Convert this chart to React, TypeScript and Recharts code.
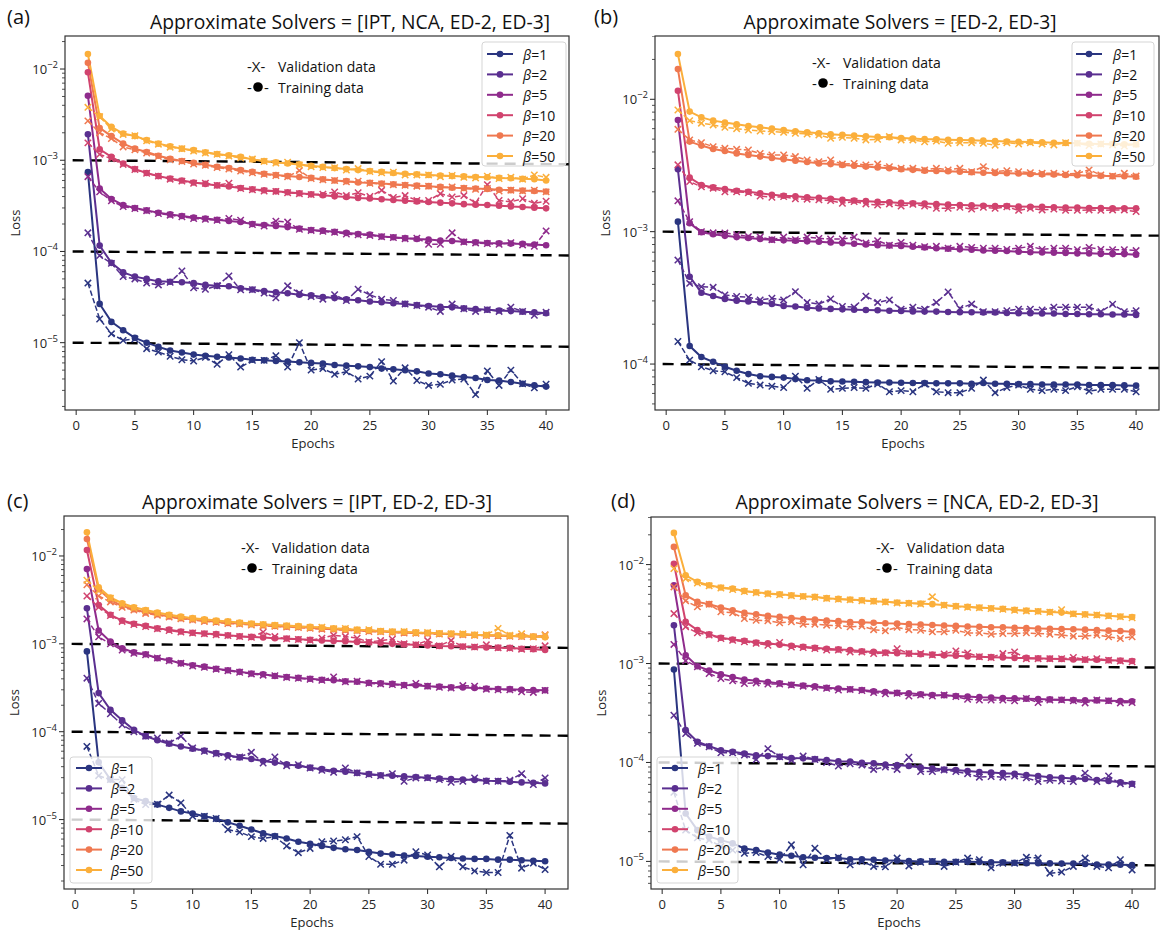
import React from 'react';
import { LineChart, Line, XAxis, YAxis, ReferenceLine } from 'recharts';

// ---------- shared categories / styles ----------
const EPOCHS = [1, 2, 3, 4, 5, 6, 7, 8, 9, 10, 11, 12, 13, 14, 15, 16, 17, 18, 19, 20,
  21, 22, 23, 24, 25, 26, 27, 28, 29, 30, 31, 32, 33, 34, 35, 36, 37, 38, 39, 40];
const BETAS = [1, 2, 5, 10, 20, 50];
const BETA_COLORS = ['#2a3580', '#5a2f90', '#8f2b8c', '#d1436e', '#ef7850', '#fbaf3b'];
const X_TICKS = [0, 5, 10, 15, 20, 25, 30, 35, 40];
const X_DOMAIN: [number, number] = [-0.95, 41.95];

const FONT = '"Open Sans", "DejaVu Sans", sans-serif';
const INK = '#262626';

// values are listed in a convenient unit, then scaled to the loss value
const u = (unit: number, vals: number[]) => vals.map((v) => v * unit);

// ---------- (a) IPT, NCA, ED-2, ED-3 ----------
const A_TRAIN_B1 = u(1e-6, [740, 26.6, 16.9, 13.7, 11.3, 10.0, 9.0, 8.2, 7.8, 7.4, 7.2, 7.0, 6.9, 6.7, 6.5, 6.4, 6.3, 6.2, 6.1, 6.0, 5.9, 5.7, 5.6, 5.5, 5.4, 5.2, 5.1, 5.0, 4.85, 4.6, 4.5, 4.35, 4.2, 4.1, 3.9, 3.85, 3.7, 3.55, 3.4, 3.3]);
const A_VAL_B1 = u(1e-6, [45, 18.2, 12.5, 10.6, 11.0, 8.6, 7.9, 7.1, 6.5, 6.3, 6.9, 5.8, 7.4, 5.4, 6.4, 6.4, 7.2, 5.4, 10.0, 5.0, 5.2, 4.5, 4.8, 4.0, 4.3, 6.2, 3.8, 5.3, 3.85, 3.4, 3.5, 3.9, 4.0, 2.7, 4.9, 3.4, 5.0, 3.55, 3.2, 3.5]);
const A_TRAIN_B2 = u(1e-5, [193, 11.6, 7.5, 5.9, 5.3, 5.0, 4.7, 4.65, 4.6, 4.5, 4.3, 4.2, 4.15, 3.95, 3.83, 3.67, 3.57, 3.48, 3.36, 3.3, 3.17, 3.08, 2.98, 2.92, 2.83, 2.78, 2.71, 2.66, 2.58, 2.52, 2.47, 2.44, 2.38, 2.34, 2.3, 2.25, 2.22, 2.18, 2.15, 2.1]);
const A_VAL_B2 = u(1e-5, [16, 9.0, 7.4, 5.3, 5.0, 4.5, 4.3, 4.6, 6.1, 4.0, 3.85, 4.2, 5.4, 3.8, 3.8, 3.5, 3.1, 4.2, 3.5, 3.2, 3.0, 3.35, 2.9, 3.85, 3.35, 3.0, 2.9, 2.65, 2.55, 2.45, 2.2, 2.65, 2.35, 2.2, 2.3, 2.2, 2.45, 2.2, 2.0, 2.15]);
const A_TRAIN_B5 = u(1e-4, [51, 4.9, 3.76, 3.22, 3.0, 2.82, 2.66, 2.55, 2.45, 2.35, 2.3, 2.23, 2.16, 2.1, 2.0, 1.95, 1.9, 1.85, 1.78, 1.72, 1.69, 1.64, 1.6, 1.55, 1.53, 1.46, 1.43, 1.4, 1.37, 1.35, 1.32, 1.3, 1.28, 1.26, 1.24, 1.23, 1.22, 1.21, 1.19, 1.17]);
const A_VAL_B5 = u(1e-4, [6.6, 4.5, 3.6, 3.1, 2.95, 2.8, 2.6, 2.5, 2.4, 2.3, 2.25, 2.2, 2.3, 2.2, 1.97, 1.9, 2.15, 2.1, 1.75, 1.7, 1.66, 1.62, 1.55, 1.52, 1.5, 1.45, 1.42, 1.38, 1.4, 1.2, 1.2, 1.6, 1.27, 1.24, 1.22, 1.2, 1.25, 1.18, 1.14, 1.68]);
const A_TRAIN_B10 = u(1e-4, [92, 13.2, 10.9, 9.2, 8.0, 7.25, 6.7, 6.3, 6.0, 5.7, 5.5, 5.3, 5.15, 4.97, 4.8, 4.68, 4.56, 4.45, 4.34, 4.23, 4.13, 4.02, 3.95, 3.85, 3.8, 3.73, 3.66, 3.6, 3.54, 3.49, 3.43, 3.37, 3.3, 3.26, 3.23, 3.18, 3.12, 3.07, 3.02, 2.97]);
const A_VAL_B10 = u(1e-4, [15.5, 11.6, 10.4, 9.0, 7.9, 7.2, 6.7, 6.2, 5.9, 5.6, 5.6, 5.3, 5.6, 4.9, 4.75, 4.6, 4.55, 4.4, 4.3, 4.2, 4.25, 4.49, 4.1, 4.4, 4.0, 4.68, 3.9, 4.1, 3.62, 3.62, 4.3, 3.95, 4.1, 3.4, 5.4, 3.62, 3.5, 3.78, 3.37, 3.55]);
const A_TRAIN_B20 = u(1e-4, [117, 22.6, 18.4, 15.2, 13.4, 12.3, 11.2, 10.4, 9.8, 9.35, 8.9, 8.5, 8.2, 7.8, 7.45, 7.1, 6.9, 6.7, 6.56, 6.4, 6.2, 6.0, 5.9, 5.7, 5.65, 5.55, 5.45, 5.35, 5.27, 5.2, 5.1, 5.0, 4.97, 4.9, 4.85, 4.75, 4.7, 4.65, 4.6, 4.55]);
const A_VAL_B20 = u(1e-4, [27, 20, 17.3, 14.0, 13.0, 12.0, 11.0, 10.1, 9.7, 9.1, 8.8, 8.3, 8.0, 7.6, 7.3, 7.0, 6.8, 6.6, 7.7, 6.3, 6.1, 6.0, 5.8, 5.9, 5.6, 5.5, 5.4, 5.3, 5.2, 5.2, 5.0, 5.1, 4.9, 4.8, 4.9, 4.6, 4.7, 4.6, 4.7, 4.5]);
const A_TRAIN_B50 = u(1e-4, [146, 30.5, 23.2, 19.6, 18.4, 16.6, 15.2, 14.2, 13.4, 12.9, 12.2, 11.7, 11.3, 10.9, 10.2, 9.8, 9.5, 9.2, 9.0, 8.7, 8.45, 8.2, 8.0, 7.8, 7.6, 7.45, 7.25, 7.1, 7.0, 6.9, 6.8, 6.7, 6.65, 6.56, 6.5, 6.4, 6.35, 6.25, 6.2, 6.0]);
const A_VAL_B50 = u(1e-4, [38, 30, 22, 19.2, 18.6, 16.3, 15.0, 13.9, 13.4, 12.6, 12.0, 11.6, 11.1, 10.6, 10.3, 9.7, 9.3, 9.5, 8.9, 8.5, 8.3, 8.3, 7.8, 8.1, 7.5, 7.3, 7.4, 6.9, 6.9, 6.9, 6.6, 6.8, 6.5, 6.4, 6.7, 6.3, 6.5, 6.2, 6.9, 6.5]);

// ---------- (b) ED-2, ED-3 ----------
const B_TRAIN_B1 = u(1e-5, [119, 13.7, 11.3, 10.4, 9.55, 8.9, 8.4, 8.1, 8.0, 7.9, 7.7, 7.55, 7.5, 7.4, 7.38, 7.35, 7.3, 7.25, 7.25, 7.22, 7.2, 7.2, 7.15, 7.15, 7.15, 7.1, 7.2, 7.1, 7.1, 7.05, 7.05, 7.0, 7.0, 7.0, 7.0, 6.95, 6.95, 6.95, 6.9, 6.87]);
const B_VAL_B1 = u(1e-5, [14.8, 10.7, 9.55, 8.9, 8.75, 7.9, 7.15, 6.94, 6.8, 6.65, 8.1, 6.55, 7.65, 6.45, 6.55, 6.65, 6.55, 7.07, 6.18, 6.3, 6.18, 7.07, 6.18, 6.08, 6.08, 6.55, 7.57, 6.08, 6.65, 6.94, 6.45, 6.3, 6.45, 6.3, 6.75, 6.25, 6.45, 6.45, 6.45, 6.18]);
const B_TRAIN_B2 = u(1e-4, [29.6, 4.57, 3.46, 3.27, 3.1, 3.01, 2.97, 2.92, 2.84, 2.75, 2.72, 2.66, 2.63, 2.61, 2.59, 2.57, 2.56, 2.55, 2.53, 2.52, 2.5, 2.49, 2.49, 2.47, 2.46, 2.46, 2.45, 2.45, 2.43, 2.42, 2.42, 2.41, 2.41, 2.39, 2.39, 2.38, 2.38, 2.37, 2.37, 2.35]);
const B_VAL_B2 = u(1e-4, [6.1, 4.07, 3.84, 3.8, 3.33, 3.24, 3.2, 3.05, 3.14, 3.05, 3.52, 2.92, 2.84, 3.1, 2.72, 2.69, 3.26, 2.92, 3.05, 2.6, 2.69, 2.6, 2.92, 3.5, 2.63, 2.84, 2.49, 2.49, 2.53, 2.6, 2.6, 2.56, 2.69, 2.69, 2.69, 2.69, 2.49, 2.83, 2.49, 2.53]);
const B_TRAIN_B5 = u(1e-4, [69.8, 11.6, 9.9, 9.55, 9.3, 9.1, 8.95, 8.8, 8.7, 8.6, 8.55, 8.45, 8.4, 8.3, 8.2, 8.1, 8.0, 7.9, 7.85, 7.8, 7.7, 7.6, 7.5, 7.43, 7.35, 7.3, 7.2, 7.18, 7.14, 7.06, 7.0, 6.97, 6.93, 6.9, 6.86, 6.86, 6.8, 6.77, 6.77, 6.7]);
const B_VAL_B5 = u(1e-4, [17.1, 11.9, 10.0, 9.8, 9.77, 9.5, 9.2, 9.1, 8.7, 9.1, 8.7, 9.1, 8.9, 8.8, 8.8, 9.1, 8.2, 8.55, 7.9, 8.3, 7.9, 7.7, 7.75, 7.5, 7.75, 7.6, 7.5, 7.5, 7.35, 7.5, 7.75, 7.35, 7.5, 7.5, 7.3, 7.6, 7.35, 7.3, 7.3, 7.2]);
const B_TRAIN_B10 = u(1e-3, [11.6, 2.56, 2.25, 2.16, 2.1, 2.04, 2.0, 1.95, 1.9, 1.87, 1.85, 1.82, 1.8, 1.77, 1.74, 1.72, 1.7, 1.68, 1.67, 1.65, 1.64, 1.63, 1.62, 1.6, 1.59, 1.58, 1.57, 1.56, 1.56, 1.55, 1.54, 1.54, 1.53, 1.52, 1.52, 1.51, 1.51, 1.5, 1.5, 1.5]);
const B_VAL_B10 = u(1e-3, [3.2, 2.39, 2.18, 2.13, 2.0, 2.0, 1.97, 1.86, 1.82, 1.84, 1.77, 1.76, 1.74, 1.72, 1.64, 1.69, 1.62, 1.59, 1.62, 1.56, 1.61, 1.56, 1.5, 1.5, 1.53, 1.48, 1.53, 1.5, 1.54, 1.45, 1.5, 1.46, 1.48, 1.45, 1.45, 1.46, 1.45, 1.46, 1.46, 1.42]);
const B_TRAIN_B20 = u(1e-3, [16.9, 4.79, 4.47, 4.21, 4.07, 3.9, 3.8, 3.69, 3.6, 3.52, 3.44, 3.36, 3.28, 3.24, 3.19, 3.15, 3.1, 3.05, 3.01, 2.96, 2.93, 2.89, 2.87, 2.86, 2.84, 2.81, 2.79, 2.78, 2.76, 2.75, 2.73, 2.71, 2.7, 2.68, 2.67, 2.65, 2.64, 2.62, 2.62, 2.6]);
const B_VAL_B20 = u(1e-3, [5.93, 4.93, 4.7, 4.39, 4.26, 4.19, 4.14, 3.9, 3.8, 3.8, 3.69, 3.48, 3.38, 3.48, 3.24, 3.28, 3.19, 3.24, 3.1, 3.01, 3.01, 2.93, 3.01, 2.93, 3.01, 2.84, 3.1, 2.84, 2.89, 2.84, 2.79, 2.76, 2.76, 2.73, 2.76, 2.93, 2.68, 2.63, 2.76, 2.63]);
const B_TRAIN_B50 = u(1e-3, [22, 8.07, 7.3, 6.9, 6.67, 6.47, 6.28, 6.14, 6.0, 5.86, 5.73, 5.63, 5.54, 5.45, 5.38, 5.32, 5.26, 5.2, 5.16, 5.1, 5.05, 5.0, 4.98, 4.95, 4.92, 4.9, 4.87, 4.84, 4.8, 4.78, 4.76, 4.73, 4.7, 4.68, 4.65, 4.62, 4.6, 4.6, 4.57, 4.55]);
const B_VAL_B50 = u(1e-3, [8.3, 6.9, 6.6, 6.4, 6.14, 6.0, 5.86, 5.76, 5.7, 5.63, 5.54, 5.47, 5.38, 5.07, 5.16, 5.07, 4.93, 4.98, 5.23, 4.93, 4.93, 4.78, 4.84, 4.65, 4.7, 4.7, 4.65, 4.5, 4.7, 4.6, 4.7, 4.6, 4.52, 4.7, 4.65, 4.47, 4.6, 4.52, 4.44, 4.6]);

// ---------- (c) IPT, ED-2, ED-3 ----------
const C_TRAIN_B1 = u(1e-6, [820, 44.8, 28.5, 23, 17.6, 16.2, 14.8, 13.6, 12.4, 11.7, 10.9, 10.2, 9.3, 8.5, 7.7, 7.0, 6.5, 6.1, 5.6, 5.3, 5.0, 4.77, 4.6, 4.5, 4.3, 4.1, 4.0, 3.9, 3.85, 3.78, 3.72, 3.65, 3.6, 3.57, 3.57, 3.5, 3.5, 3.45, 3.4, 3.35]);
const C_VAL_B1 = u(1e-6, [68, 31.6, 28.5, 28.5, 17, 14.8, 15, 19, 15.5, 10.9, 10.9, 10.3, 7.7, 7.2, 6.4, 6.1, 6.4, 5.0, 4.2, 4.7, 5.6, 5.7, 5.9, 6.4, 3.8, 3.1, 3.1, 3.45, 4.3, 3.95, 2.9, 3.8, 2.9, 2.6, 2.5, 2.5, 6.6, 2.8, 3.2, 2.7]);
const C_TRAIN_B2 = u(1e-5, [254, 27.5, 17.8, 13.5, 10.5, 8.9, 8.0, 7.3, 6.8, 6.4, 6.1, 5.7, 5.4, 5.1, 4.9, 4.65, 4.45, 4.25, 4.1, 3.9, 3.75, 3.6, 3.5, 3.4, 3.3, 3.2, 3.15, 3.1, 3.05, 3.0, 2.93, 2.9, 2.85, 2.82, 2.77, 2.74, 2.7, 2.65, 2.62, 2.58]);
const C_VAL_B2 = u(1e-5, [40.7, 21, 16, 12, 10, 8.9, 8.48, 7.43, 8.9, 6.52, 5.98, 5.62, 5.15, 5.15, 5.83, 4.4, 5.15, 4.11, 4.22, 3.86, 3.64, 3.45, 3.86, 3.4, 3.25, 3.16, 3.33, 2.73, 2.98, 2.98, 2.85, 2.66, 2.73, 2.98, 2.73, 2.73, 2.8, 3.33, 2.5, 2.98]);
const C_TRAIN_B5 = u(1e-4, [71, 14.2, 10.6, 8.9, 8.0, 7.6, 6.85, 6.5, 6.0, 5.7, 5.5, 5.2, 5.0, 4.8, 4.6, 4.5, 4.3, 4.2, 4.1, 4.0, 3.9, 3.85, 3.75, 3.7, 3.6, 3.55, 3.5, 3.4, 3.38, 3.3, 3.26, 3.2, 3.18, 3.15, 3.1, 3.06, 3.05, 3.0, 2.98, 2.96]);
const C_VAL_B5 = u(1e-4, [19.2, 12.0, 10.0, 8.5, 7.8, 7.5, 6.9, 6.4, 6.0, 5.6, 5.4, 5.15, 4.95, 4.75, 4.55, 4.4, 4.35, 4.15, 4.05, 3.95, 3.85, 4.2, 3.7, 3.75, 3.55, 3.5, 3.45, 3.35, 3.55, 3.3, 3.2, 3.15, 3.35, 3.3, 3.05, 3.0, 3.0, 2.85, 2.8, 2.95]);
const C_TRAIN_B10 = u(1e-3, [11.7, 2.77, 2.14, 1.84, 1.69, 1.6, 1.5, 1.45, 1.38, 1.34, 1.31, 1.29, 1.25, 1.22, 1.2, 1.18, 1.16, 1.15, 1.13, 1.11, 1.09, 1.08, 1.07, 1.05, 1.04, 1.02, 1.0, 0.985, 0.975, 0.96, 0.945, 0.94, 0.93, 0.92, 0.91, 0.905, 0.9, 0.88, 0.87, 0.85]);
const C_VAL_B10 = u(1e-3, [3.5, 2.61, 2.1, 1.8, 1.66, 1.57, 1.48, 1.42, 1.36, 1.33, 1.3, 1.27, 1.24, 1.21, 1.19, 1.36, 1.21, 1.14, 1.12, 1.1, 1.16, 1.25, 1.21, 1.16, 1.05, 1.09, 1.13, 1.0, 0.98, 1.09, 0.95, 1.09, 0.93, 0.92, 0.975, 0.9, 0.89, 0.87, 0.88, 0.95]);
const C_TRAIN_B20 = u(1e-3, [15.6, 4.18, 3.16, 2.7, 2.48, 2.27, 2.17, 2.05, 1.96, 1.9, 1.84, 1.78, 1.73, 1.7, 1.67, 1.63, 1.6, 1.57, 1.55, 1.52, 1.49, 1.47, 1.45, 1.42, 1.4, 1.38, 1.36, 1.34, 1.33, 1.32, 1.3, 1.29, 1.28, 1.26, 1.25, 1.24, 1.23, 1.22, 1.21, 1.2]);
const C_VAL_B20 = u(1e-3, [4.7, 3.5, 3.0, 2.6, 2.42, 2.22, 2.12, 2.02, 1.93, 1.87, 1.8, 1.76, 1.7, 1.68, 1.64, 1.6, 1.58, 1.55, 1.53, 1.5, 1.47, 1.46, 1.43, 1.41, 1.38, 1.37, 1.35, 1.33, 1.32, 1.3, 1.29, 1.28, 1.27, 1.25, 1.24, 1.23, 1.22, 1.21, 1.2, 1.27]);
const C_TRAIN_B50 = u(1e-3, [18.6, 4.4, 3.37, 2.9, 2.61, 2.43, 2.27, 2.14, 2.05, 1.96, 1.9, 1.84, 1.8, 1.75, 1.7, 1.67, 1.64, 1.62, 1.59, 1.56, 1.53, 1.5, 1.48, 1.45, 1.43, 1.4, 1.38, 1.37, 1.35, 1.34, 1.32, 1.31, 1.29, 1.27, 1.26, 1.25, 1.24, 1.22, 1.21, 1.19]);
const C_VAL_B50 = u(1e-3, [5.3, 4.04, 3.3, 2.8, 2.55, 2.38, 2.22, 2.1, 2.0, 1.93, 1.86, 1.81, 1.77, 1.72, 1.68, 1.65, 1.62, 1.6, 1.57, 1.54, 1.55, 1.49, 1.5, 1.44, 1.45, 1.39, 1.37, 1.38, 1.34, 1.35, 1.31, 1.3, 1.3, 1.26, 1.27, 1.5, 1.25, 1.3, 1.2, 1.25]);

// ---------- (d) NCA, ED-2, ED-3 ----------
const D_TRAIN_B1 = u(1e-6, [870, 30.5, 20.7, 17.8, 16.4, 15.2, 13.5, 13.0, 12.3, 11.7, 11.4, 11.0, 10.9, 10.8, 10.8, 10.5, 10.5, 10.4, 10.2, 10.2, 10.1, 10.0, 10.0, 9.9, 9.9, 9.9, 9.85, 9.8, 9.8, 9.7, 9.6, 9.6, 9.55, 9.5, 9.5, 9.4, 9.3, 9.3, 9.25, 9.2]);
const D_VAL_B1 = u(1e-6, [50, 20.7, 17.3, 16.4, 14.2, 13.0, 12.1, 12.3, 11.2, 10.5, 14.7, 9.25, 13.6, 10.4, 11.0, 9.25, 10.0, 8.9, 8.8, 10.8, 9.0, 9.8, 10.0, 8.9, 9.8, 10.8, 10.4, 8.6, 9.6, 9.6, 11.0, 10.8, 7.6, 7.8, 8.9, 10.8, 8.9, 8.6, 10.4, 8.2]);
const D_TRAIN_B2 = u(1e-5, [244, 21.2, 16.2, 14.6, 13.3, 12.8, 12.3, 11.8, 11.6, 11.4, 11.1, 11.0, 10.8, 10.6, 10.3, 10.2, 9.9, 9.8, 9.5, 9.4, 9.2, 8.9, 8.7, 8.5, 8.4, 8.2, 8.0, 7.9, 7.8, 7.7, 7.45, 7.3, 7.1, 7.0, 6.9, 6.8, 6.65, 6.5, 6.3, 6.1]);
const D_VAL_B2 = u(1e-5, [30, 19.6, 15.6, 14.4, 12.5, 12.5, 11.9, 10.7, 13.8, 11.4, 10.55, 11.6, 10.7, 10.0, 9.2, 9.7, 9.4, 8.5, 9.0, 8.5, 11.3, 8.1, 8.1, 8.4, 8.1, 7.7, 7.1, 7.2, 7.1, 7.3, 7.0, 6.4, 6.6, 6.5, 6.4, 7.8, 6.4, 7.3, 6.1, 6.0]);
const D_TRAIN_B5 = u(1e-4, [61.8, 12.1, 9.4, 8.5, 7.8, 7.3, 6.9, 6.7, 6.5, 6.3, 6.1, 6.0, 5.9, 5.7, 5.6, 5.5, 5.4, 5.25, 5.15, 5.05, 5.0, 4.9, 4.8, 4.78, 4.7, 4.63, 4.57, 4.54, 4.47, 4.45, 4.4, 4.37, 4.34, 4.3, 4.27, 4.24, 4.24, 4.2, 4.18, 4.15]);
const D_VAL_B5 = u(1e-4, [15.6, 10.65, 9.25, 7.93, 7.05, 6.7, 6.28, 6.37, 6.2, 6.2, 6.06, 5.9, 5.74, 5.62, 5.4, 5.47, 5.33, 5.1, 4.95, 5.0, 4.7, 4.8, 4.7, 4.8, 4.63, 4.35, 4.28, 4.28, 4.28, 4.2, 4.43, 4.04, 4.28, 4.28, 4.2, 4.0, 4.28, 4.2, 4.0, 4.04]);
const D_TRAIN_B10 = u(1e-3, [10.2, 2.64, 2.18, 1.97, 1.82, 1.75, 1.7, 1.63, 1.6, 1.55, 1.51, 1.48, 1.44, 1.41, 1.39, 1.37, 1.33, 1.31, 1.29, 1.27, 1.26, 1.24, 1.23, 1.21, 1.2, 1.18, 1.17, 1.16, 1.15, 1.14, 1.14, 1.13, 1.12, 1.11, 1.1, 1.09, 1.09, 1.08, 1.07, 1.06]);
const D_VAL_B10 = u(1e-3, [3.2, 2.35, 2.04, 1.94, 1.79, 1.72, 1.66, 1.6, 1.53, 1.63, 1.47, 1.45, 1.42, 1.37, 1.37, 1.31, 1.31, 1.26, 1.28, 1.41, 1.26, 1.26, 1.22, 1.25, 1.34, 1.28, 1.17, 1.15, 1.26, 1.31, 1.12, 1.12, 1.12, 1.12, 1.15, 1.1, 1.12, 1.08, 1.06, 1.04]);
const D_TRAIN_B20 = u(1e-3, [15.1, 4.9, 4.2, 3.98, 3.68, 3.46, 3.25, 3.14, 3.03, 2.96, 2.89, 2.82, 2.78, 2.72, 2.68, 2.63, 2.62, 2.58, 2.55, 2.54, 2.5, 2.48, 2.45, 2.42, 2.4, 2.37, 2.35, 2.33, 2.32, 2.3, 2.28, 2.26, 2.25, 2.23, 2.22, 2.2, 2.18, 2.15, 2.13, 2.1]);
const D_VAL_B20 = u(1e-3, [5.95, 4.3, 3.74, 3.98, 3.33, 3.25, 2.85, 2.74, 2.7, 2.58, 2.64, 2.5, 2.5, 2.44, 2.42, 2.35, 2.39, 2.2, 2.14, 2.32, 2.2, 2.17, 2.09, 2.09, 2.17, 2.04, 2.04, 1.98, 2.01, 2.01, 2.04, 2.01, 1.98, 1.94, 1.89, 1.89, 1.94, 1.86, 1.79, 1.86]);
const D_TRAIN_B50 = u(1e-3, [20.9, 7.8, 6.68, 6.18, 5.86, 5.72, 5.42, 5.26, 5.1, 5.02, 4.9, 4.79, 4.72, 4.58, 4.5, 4.43, 4.36, 4.27, 4.2, 4.14, 4.08, 4.05, 3.98, 3.9, 3.8, 3.74, 3.68, 3.62, 3.57, 3.49, 3.43, 3.38, 3.32, 3.27, 3.19, 3.14, 3.09, 3.04, 2.99, 2.95]);
const D_VAL_B50 = u(1e-3, [9.1, 7.2, 6.5, 6.1, 5.8, 5.6, 5.35, 5.2, 5.05, 4.95, 4.85, 4.75, 4.68, 4.55, 4.45, 4.4, 4.32, 4.25, 4.18, 4.1, 4.05, 4.0, 4.72, 3.88, 3.78, 3.7, 3.66, 3.6, 3.53, 3.45, 3.4, 3.35, 3.3, 3.5, 3.17, 3.12, 3.1, 3.02, 2.97, 2.9]);

// ---------- panel setup ----------
type Box = { l: number; t: number; w: number; h: number };
type PanelCfg = {
  letter: string;
  title: string;
  train: number[][];
  val: number[][];
  thresholds: number[];
  yExp: [number, number];
  plot: Box;
  titlePos: { cx: number; cy: number; len: number };
  letterPos: { x: number; y: number };
  note: { x: number; y1: number; y2: number };
  legend: { x: number; y: number; w: number; h: number; lineX: number; textX: number; row0: number };
};

const PANELS: PanelCfg[] = [
  {
    letter: '(a)',
    title: 'Approximate Solvers = [IPT, NCA, ED-2, ED-3]',
    train: [A_TRAIN_B1, A_TRAIN_B2, A_TRAIN_B5, A_TRAIN_B10, A_TRAIN_B20, A_TRAIN_B50],
    val: [A_VAL_B1, A_VAL_B2, A_VAL_B5, A_VAL_B10, A_VAL_B20, A_VAL_B50],
    thresholds: [1e-3, 1e-4, 1e-5],
    yExp: [-5.738, -1.638],
    plot: { l: 65, t: 36, w: 504, h: 374 },
    titlePos: { cx: 350, cy: 21, len: 400 },
    letterPos: { x: 7, y: 16 },
    note: { x: 247, y1: 66, y2: 87 },
    legend: { x: 482, y: 42, w: 84, h: 124, lineX: 487, textX: 523, row0: 54 },
  },
  {
    letter: '(b)',
    title: 'Approximate Solvers = [ED-2, ED-3]',
    train: [B_TRAIN_B1, B_TRAIN_B2, B_TRAIN_B5, B_TRAIN_B10, B_TRAIN_B20, B_TRAIN_B50],
    val: [B_VAL_B1, B_VAL_B2, B_VAL_B5, B_VAL_B10, B_VAL_B20, B_VAL_B50],
    thresholds: [1e-3, 1e-4],
    yExp: [-4.347, -1.522],
    plot: { l: 655, t: 36, w: 504, h: 374 },
    titlePos: { cx: 900, cy: 21, len: 313 },
    letterPos: { x: 594, y: 16 },
    note: { x: 812, y1: 62, y2: 83 },
    legend: { x: 1072, y: 42, w: 82, h: 124, lineX: 1076, textX: 1113, row0: 54 },
  },
  {
    letter: '(c)',
    title: 'Approximate Solvers = [IPT, ED-2, ED-3]',
    train: [C_TRAIN_B1, C_TRAIN_B2, C_TRAIN_B5, C_TRAIN_B10, C_TRAIN_B20, C_TRAIN_B50],
    val: [C_VAL_B1, C_VAL_B2, C_VAL_B5, C_VAL_B10, C_VAL_B20, C_VAL_B50],
    thresholds: [1e-3, 1e-4, 1e-5],
    yExp: [-5.79, -1.545],
    plot: { l: 64, t: 516, w: 504, h: 373 },
    titlePos: { cx: 317, cy: 501, len: 350 },
    letterPos: { x: 7, y: 500 },
    note: { x: 241, y1: 547, y2: 568 },
    legend: { x: 70, y: 757, w: 82, h: 126, lineX: 76, textX: 111, row0: 768 },
  },
  {
    letter: '(d)',
    title: 'Approximate Solvers = [NCA, ED-2, ED-3]',
    train: [D_TRAIN_B1, D_TRAIN_B2, D_TRAIN_B5, D_TRAIN_B10, D_TRAIN_B20, D_TRAIN_B50],
    val: [D_VAL_B1, D_VAL_B2, D_VAL_B5, D_VAL_B10, D_VAL_B20, D_VAL_B50],
    thresholds: [1e-3, 1e-4, 1e-5],
    yExp: [-5.279, -1.519],
    plot: { l: 651, t: 517, w: 504, h: 372 },
    titlePos: { cx: 917, cy: 501, len: 363 },
    letterPos: { x: 611, y: 500 },
    note: { x: 876, y1: 547, y2: 568 },
    legend: { x: 657, y: 757, w: 81, h: 126, lineX: 662, textX: 698, row0: 768 },
  },
];

const Y_AXIS_W = 60;
const X_AXIS_H = 40;
const LEGEND_STEP = 20.4;

const buildRows = (train: number[][], val: number[][]) =>
  EPOCHS.map((epoch, i) => {
    const row: Record<string, number> = { epoch };
    train.forEach((s, k) => { row[`t${k}`] = s[i]; });
    val.forEach((s, k) => { row[`v${k}`] = s[i]; });
    return row;
  });

const logTicks = (lo: number, hi: number) => {
  const out: number[] = [];
  for (let e = Math.floor(Math.log10(lo)); e <= Math.ceil(Math.log10(hi)); e++) {
    for (let m = 1; m <= 9; m++) {
      const v = m * Math.pow(10, e);
      if (v >= lo && v <= hi) out.push(v);
    }
  }
  return out;
};

// ---------- axis ticks & markers ----------
const YTick = (props: any) => {
  const { x, y, payload } = props;
  const lg = Math.log10(payload.value);
  const e = Math.round(lg);
  const major = Math.abs(lg - e) < 1e-6;
  return (
    <g>
      <line x1={x - (major ? 5 : 3)} x2={x} y1={y} y2={y} stroke={INK} strokeWidth={major ? 1 : 0.8} />
      {major && (
        <text x={x - 7} y={y} textAnchor="end" dominantBaseline="central" fontSize={13} fill={INK} fontFamily={FONT}>
          10
          <tspan dy={-5} fontSize={9.5}>{`\u2212${-e}`}</tspan>
        </text>
      )}
    </g>
  );
};

const XTick = (props: any) => {
  const { x, y, payload } = props;
  return (
    <g>
      <line x1={x} x2={x} y1={y} y2={y + 5} stroke={INK} strokeWidth={1} />
      <text x={x} y={y + 15} textAnchor="middle" dominantBaseline="central" fontSize={13} fill={INK} fontFamily={FONT}>
        {payload.value}
      </text>
    </g>
  );
};

const XMark = ({ cx, cy, color }: { cx?: number; cy?: number; color: string }) => {
  if (cx == null || cy == null || Number.isNaN(cx) || Number.isNaN(cy)) return <g />;
  const s = 3.2;
  return (
    <path
      d={`M${cx - s},${cy - s}L${cx + s},${cy + s}M${cx - s},${cy + s}L${cx + s},${cy - s}`}
      stroke={color}
      strokeWidth={1.5}
      fill="none"
    />
  );
};

// ---------- one panel chart ----------
const PanelChart = ({ cfg }: { cfg: PanelCfg }) => {
  const { plot } = cfg;
  const lo = Math.pow(10, cfg.yExp[0]);
  const hi = Math.pow(10, cfg.yExp[1]);
  const pxPerDecade = plot.h / (cfg.yExp[1] - cfg.yExp[0]);
  const drop = Math.pow(10, -4 / pxPerDecade);
  const rows = buildRows(cfg.train, cfg.val);
  const width = plot.w + Y_AXIS_W;
  const height = plot.h + X_AXIS_H;

  const series = BETAS.flatMap((b, k) => {
    const c = BETA_COLORS[k];
    return [
      <Line
        key={`t${k}`}
        type="linear"
        dataKey={`t${k}`}
        stroke={c}
        strokeWidth={2}
        dot={{ r: 3.3, fill: c, stroke: c, strokeWidth: 0 }}
        activeDot={false}
        isAnimationActive={false}
      />,
      <Line
        key={`v${k}`}
        type="linear"
        dataKey={`v${k}`}
        stroke={c}
        strokeWidth={1.5}
        strokeDasharray="5.5 2.4"
        dot={(p: any) => <XMark key={`x${k}-${p.index}`} cx={p.cx} cy={p.cy} color={c} />}
        activeDot={false}
        isAnimationActive={false}
      />,
    ];
  });

  return (
    <div style={{ position: 'absolute', left: plot.l - Y_AXIS_W, top: plot.t, width, height }}>
      <LineChart width={width} height={height} data={rows} margin={{ top: 0, right: 0, bottom: 0, left: 0 }}>
        <XAxis
          dataKey="epoch"
          type="number"
          domain={X_DOMAIN}
          ticks={X_TICKS}
          interval={0}
          allowDataOverflow
          axisLine={false}
          tickLine={false}
          tickSize={0}
          tickMargin={0}
          height={X_AXIS_H}
          tick={(p: any) => <XTick {...p} />}
        />
        <YAxis
          type="number"
          scale="log"
          domain={[lo, hi]}
          ticks={logTicks(lo, hi)}
          interval={0}
          allowDataOverflow
          axisLine={false}
          tickLine={false}
          tickSize={0}
          tickMargin={0}
          width={Y_AXIS_W}
          tick={(p: any) => <YTick {...p} />}
        />
        {cfg.thresholds.map((t) => (
          <ReferenceLine
            key={`thr${t}`}
            segment={[{ x: -0.3, y: t }, { x: 41.95, y: t * drop }]}
            stroke="#000"
            strokeWidth={2.4}
            strokeDasharray="11 7"
            ifOverflow="visible"
          />
        ))}
        {series}
      </LineChart>
    </div>
  );
};

// ---------- text, frames and legends on top ----------
const PanelDecor = ({ cfg }: { cfg: PanelCfg }) => {
  const { plot, titlePos, letterPos, note, legend } = cfg;
  return (
    <g fontFamily={FONT}>
      <rect x={plot.l} y={plot.t} width={plot.w} height={plot.h} fill="none" stroke="#333" strokeWidth={1.2} />
      <text x={letterPos.x} y={letterPos.y} dominantBaseline="central" fontSize={20} fill="#111">
        {cfg.letter}
      </text>
      <text
        x={titlePos.cx - titlePos.len / 2}
        y={titlePos.cy}
        dominantBaseline="central"
        fontSize={19.5}
        fill="#111"
        textLength={titlePos.len}
        lengthAdjust="spacingAndGlyphs"
      >
        {cfg.title}
      </text>
      <text
        x={plot.l - 50}
        y={plot.t + plot.h / 2}
        transform={`rotate(-90 ${plot.l - 50} ${plot.t + plot.h / 2})`}
        textAnchor="middle"
        dominantBaseline="central"
        fontSize={13}
        fill={INK}
      >
        Loss
      </text>
      <text
        x={plot.l + plot.w / 2 - 4}
        y={plot.t + plot.h + 33}
        textAnchor="middle"
        dominantBaseline="central"
        fontSize={13}
        fill={INK}
      >
        Epochs
      </text>

      {/* marker key */}
      <text x={note.x} y={note.y1} dominantBaseline="central" fontSize={15} fill="#111">
        -X-
      </text>
      <text x={note.x + 31} y={note.y1} dominantBaseline="central" fontSize={14} fill="#111">
        Validation data
      </text>
      <text x={note.x} y={note.y2} dominantBaseline="central" fontSize={15} fill="#111">-</text>
      <circle cx={note.x + 11} cy={note.y2} r={4.8} fill="#000" />
      <text x={note.x + 17} y={note.y2} dominantBaseline="central" fontSize={15} fill="#111">-</text>
      <text x={note.x + 31} y={note.y2} dominantBaseline="central" fontSize={14} fill="#111">
        Training data
      </text>

      {/* beta legend */}
      <rect
        x={legend.x}
        y={legend.y}
        width={legend.w}
        height={legend.h}
        rx={3}
        fill="#fff"
        fillOpacity={0.8}
        stroke="#d5d5d5"
        strokeWidth={1}
      />
      {BETAS.map((b, k) => {
        const y = legend.row0 + k * LEGEND_STEP;
        const c = BETA_COLORS[k];
        return (
          <g key={`lg${b}`}>
            <line x1={legend.lineX} x2={legend.lineX + 26} y1={y} y2={y} stroke={c} strokeWidth={2} />
            <circle cx={legend.lineX + 13} cy={y} r={3.3} fill={c} />
            <text x={legend.textX} y={y} dominantBaseline="central" fontSize={14} fill="#111">
              <tspan fontStyle="italic">β</tspan>
              {`=${b}`}
            </text>
          </g>
        );
      })}
    </g>
  );
};

export default function App() {
  return (
    <div style={{ position: 'absolute', left: 0, top: 0, width: 1161, height: 931, background: '#fff', overflow: 'hidden' }}>
      {PANELS.map((p) => (
        <PanelChart key={p.letter} cfg={p} />
      ))}
      <svg width={1161} height={931} style={{ position: 'absolute', left: 0, top: 0, pointerEvents: 'none' }}>
        {PANELS.map((p) => (
          <PanelDecor key={p.letter} cfg={p} />
        ))}
      </svg>
    </div>
  );
}
